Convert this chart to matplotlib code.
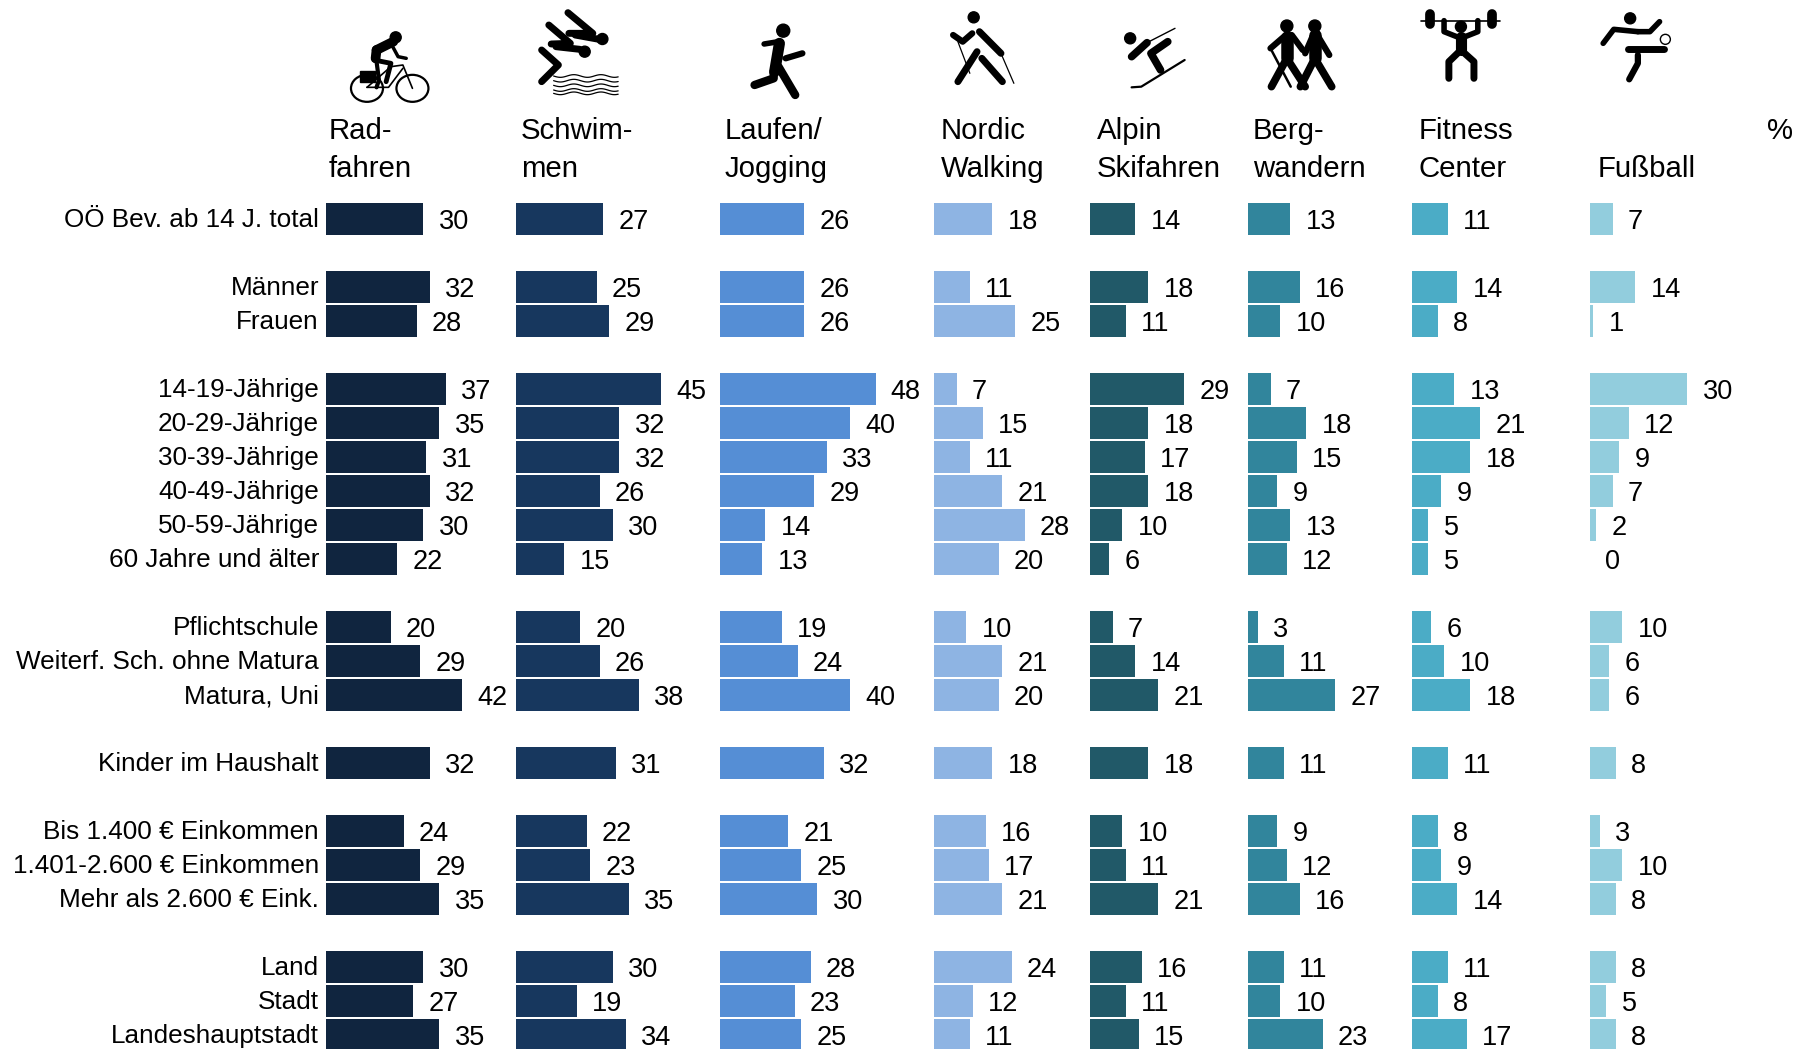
import numpy as np
import matplotlib
matplotlib.use('Agg')
import matplotlib.pyplot as plt
from matplotlib.patches import Ellipse, Rectangle

plt.rcParams['font.family'] = ['Liberation Sans', 'DejaVu Sans']

# row labels and their row index (gaps between groups)
labels = ['OÖ Bev. ab 14 J. total', 'Männer', 'Frauen', '14-19-Jährige', '20-29-Jährige',
          '30-39-Jährige', '40-49-Jährige', '50-59-Jährige', '60 Jahre und älter',
          'Pflichtschule', 'Weiterf. Sch. ohne Matura', 'Matura, Uni', 'Kinder im Haushalt',
          'Bis 1.400 € Einkommen', '1.401-2.600 € Einkommen', 'Mehr als 2.600 € Eink.',
          'Land', 'Stadt', 'Landeshauptstadt']
rows = [0, 2, 3, 5, 6, 7, 8, 9, 10, 12, 13, 14, 16, 18, 19, 20, 22, 23, 24]

# one list per sport
radfahren = [30, 32, 28, 37, 35, 31, 32, 30, 22, 20, 29, 42, 32, 24, 29, 35, 30, 27, 35]
schwimmen = [27, 25, 29, 45, 32, 32, 26, 30, 15, 20, 26, 38, 31, 22, 23, 35, 30, 19, 34]
laufen = [26, 26, 26, 48, 40, 33, 29, 14, 13, 19, 24, 40, 32, 21, 25, 30, 28, 23, 25]
nordic = [18, 11, 25, 7, 15, 11, 21, 28, 20, 10, 21, 20, 18, 16, 17, 21, 24, 12, 11]
alpin = [14, 18, 11, 29, 18, 17, 18, 10, 6, 7, 14, 21, 18, 10, 11, 21, 16, 11, 15]
berg = [13, 16, 10, 7, 18, 15, 9, 13, 12, 3, 11, 27, 11, 9, 12, 16, 11, 10, 23]
fitness = [11, 14, 8, 13, 21, 18, 9, 5, 5, 6, 10, 18, 11, 8, 9, 14, 11, 8, 17]
fussball = [7, 14, 1, 30, 12, 9, 7, 2, 0, 10, 6, 6, 8, 3, 10, 8, 8, 5, 8]

series = [radfahren, schwimmen, laufen, nordic, alpin, berg, fitness, fussball]
headers = [('Rad-', 'fahren'), ('Schwim-', 'men'), ('Laufen/', 'Jogging'), ('Nordic', 'Walking'),
           ('Alpin', 'Skifahren'), ('Berg-', 'wandern'), ('Fitness', 'Center'), ('', 'Fußball')]
colors = ['#10253F', '#17375E', '#558ED5', '#8EB4E3', '#215968', '#31859C', '#4BACC6', '#92CDDD']

W, H = 1796, 1049
col_x = [326, 515.5, 720, 934, 1090, 1248, 1412, 1590]
head_x = [329, 521, 725, 941, 1097, 1253, 1419, 1598]
px_per_unit = 3.24
y0, pitch = 218.8, 34.0
fs = 19.5
label_fs = 18.8

fig = plt.figure(figsize=(W / 100, H / 100), dpi=100, facecolor='white')

# overlay in pixel coordinates for header text and icons
top = fig.add_axes([0, 0, 1, 1], zorder=5)
top.set_xlim(0, W)
top.set_ylim(H, 0)
top.axis('off')
top.patch.set_alpha(0)

for i, vals in enumerate(series):
    span = (W - col_x[i]) / px_per_unit
    ax = fig.add_axes([col_x[i] / W, 0, (W - col_x[i]) / W, 1])
    ax.set_xlim(0, span)
    ax.set_ylim((H - y0) / pitch, -y0 / pitch)
    ax.axis('off')
    ax.patch.set_alpha(0)
    bars = ax.barh(rows, vals, height=0.94, color=colors[i])
    for r, v in zip(rows, vals):
        ax.annotate(str(v), (v, r), xytext=(11, -2.2), textcoords='offset points',
                    ha='left', va='center', fontsize=fs, color='black')
    top.text(head_x[i], 131, headers[i][0], ha='left', va='center', fontsize=fs + 1.7)
    top.text(head_x[i], 169, headers[i][1], ha='left', va='center', fontsize=fs + 1.7)

for r, lab in zip(rows, labels):
    top.text(319, y0 + pitch * r + 1.5, lab, ha='right', va='center', fontsize=label_fs)
top.text(1793, 131, '%', ha='right', va='center', fontsize=fs + 1.7)


# icons: shapes given in crop coordinates, converted to pixels
def to_px(pts, x_off, x_scale):
    pts = np.array(pts, dtype=float)
    return pts[:, 0] / x_scale + x_off, pts[:, 1] / 3


def stroke(pts, lw=5.0, off=300, sc=2.09):
    xs, ys = to_px(pts, off, sc)
    top.plot(xs, ys, color='black', lw=lw, solid_capstyle='round', solid_joinstyle='round')


def dot(x, y, r, off=300, sc=2.09):
    xs, ys = to_px([(x, y)], off, sc)
    top.add_patch(Ellipse((xs[0], ys[0]), 2 * r, 2 * r, color='black'))


def ring(x, y, rx, ry, lw=1.5, off=300, sc=2.09):
    xs, ys = to_px([(x, y)], off, sc)
    top.add_patch(Ellipse((xs[0], ys[0]), 2 * rx, 2 * ry, fill=False, ec='black', lw=lw))


# cyclist
ring(140, 265, 16, 13.5, lw=1.6)
ring(235, 265, 16, 13.5, lw=1.6)
dot(200, 112, 5.5)
stroke([(160, 150), (195, 125)], lw=7)
stroke([(158, 175), (160, 150)], lw=7)
stroke([(190, 130), (205, 170), (222, 175)], lw=2.5)
stroke([(155, 180), (190, 190), (180, 245)], lw=3.5)
stroke([(160, 185), (165, 240), (160, 262)], lw=3)
stroke([(140, 262), (190, 200), (215, 195), (235, 265)], lw=1.2)
stroke([(140, 262), (185, 262), (215, 205)], lw=1.2)
top.add_patch(Rectangle(((125 / 2.09) + 300, 71), 15, 11, color='black'))

# swimmers
stroke([(560, 38), (612, 100), (562, 100)], lw=5)
stroke([(575, 105), (625, 118)], lw=5)
dot(632, 117, 5.5)
stroke([(520, 75), (565, 130), (525, 132)], lw=5)
stroke([(535, 140), (585, 148)], lw=5)
dot(595, 155, 5.5)
stroke([(505, 150), (540, 195), (505, 245)], lw=5)
wx = np.linspace(530, 665, 60)
for wy in [228, 242, 256, 270, 280]:
    stroke(np.column_stack([wx, wy + 4 * np.sin((wx - 530) / 9)]), lw=0.9)

# runner
dot(1010, 92, 6.5)
stroke([(1002, 130), (992, 215)], lw=8)
stroke([(970, 132), (1000, 125), (1003, 175)], lw=4)
stroke([(1015, 175), (1050, 160)], lw=4.5)
stroke([(990, 215), (990, 235), (950, 255)], lw=6)
stroke([(1000, 200), (1035, 285)], lw=6)

# nordic walker
dot(1408, 52, 5.5)
stroke([(1420, 95), (1465, 160)], lw=5)
stroke([(1405, 100), (1385, 125), (1365, 105)], lw=4.5)
stroke([(1415, 155), (1375, 245)], lw=5)
stroke([(1425, 175), (1468, 245)], lw=5)
stroke([(1375, 125), (1400, 220)], lw=0.9)
stroke([(1465, 160), (1492, 250)], lw=0.9)

# skier
Z = dict(off=1040, sc=2.074)
dot(187, 115, 5.5, **Z)
stroke([(190, 170), (222, 128)], lw=5.5, **Z)
stroke([(222, 128), (280, 85)], lw=1.0, **Z)
stroke([(265, 125), (230, 160), (250, 210)], lw=5.5, **Z)
stroke([(190, 262), (210, 260), (300, 180)], lw=1.6, **Z)

# hikers
dot(512, 78, 6, **Z)
dot(570, 78, 6, **Z)
stroke([(512, 110), (512, 175)], lw=9, **Z)
stroke([(512, 175), (480, 260)], lw=5.5, **Z)
stroke([(512, 175), (550, 260)], lw=5.5, **Z)
stroke([(510, 105), (478, 145)], lw=4.5, **Z)
stroke([(478, 145), (520, 260)], lw=1.8, **Z)
stroke([(522, 105), (545, 150)], lw=4.5, **Z)
stroke([(570, 105), (570, 175)], lw=9, **Z)
stroke([(570, 175), (540, 260)], lw=5.5, **Z)
stroke([(570, 175), (605, 260)], lw=5.5, **Z)
stroke([(575, 105), (600, 165)], lw=4.5, **Z)
stroke([(565, 110), (550, 160)], lw=4.5, **Z)

# weightlifter
stroke([(790, 62), (955, 62)], lw=1.2, **Z)
stroke([(808, 42), (808, 72)], lw=7, **Z)
stroke([(938, 42), (938, 72)], lw=7, **Z)
dot(873, 80, 5.5, **Z)
stroke([(838, 62), (838, 95), (873, 115), (908, 95), (908, 62)], lw=4, **Z)
stroke([(873, 110), (873, 150)], lw=8, **Z)
stroke([(873, 150), (848, 185), (848, 235)], lw=5, **Z)
stroke([(873, 150), (900, 185), (900, 235)], lw=5, **Z)

# football
dot(1224, 55, 5.5, **Z)
stroke([(1240, 95), (1190, 88), (1168, 130)], lw=4, **Z)
stroke([(1240, 95), (1265, 95), (1285, 65)], lw=4, **Z)
stroke([(1220, 148), (1295, 148)], lw=5, **Z)
stroke([(1240, 165), (1240, 190), (1222, 238)], lw=4.5, **Z)
ring(1297, 118, 5, 5, lw=1.0, **Z)

fig.savefig('out.png', dpi=100)
